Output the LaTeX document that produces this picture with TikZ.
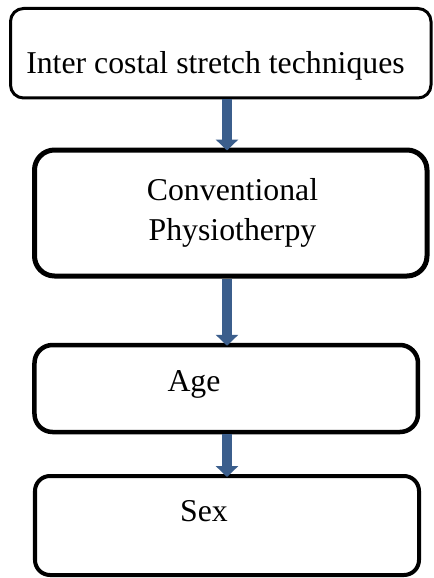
\documentclass[tikz,border=0pt]{standalone}
\usepackage{fontspec}
\setmainfont{Liberation Serif}
\usepackage{tikz}
\usetikzlibrary{arrows.meta}

\definecolor{flowblue}{HTML}{3B5E8C}

\begin{document}
\begin{tikzpicture}[
  box/.style={draw=black, rounded corners=#1, inner sep=0pt, fill=none},
  boxtext/.style={font=\fontsize{22.6}{28.45}\selectfont, inner sep=0pt, anchor=base, align=center},
  flow/.style={draw=flowblue, line width=0.25cm, shorten >=-0.075cm,
    -{Triangle[width=0.55cm, length=0.275cm]}}
]
% \draw (0,0) grid (10,-14);
\useasboundingbox (0,0) rectangle (10.85,-14.45);
\coordinate (axis) at (5.675,0);
\node[box=0.325cm, line width=0.075cm, minimum width=10.5125cm, minimum height=2.2375cm] (ics) at (5.519,-1.331) {};
\node[box=0.5cm, line width=0.125cm, minimum width=9.8125cm, minimum height=3.15cm] (conv) at (5.769,-5.325) {};
\node[box=0.45cm, line width=0.1125cm, minimum width=9.5875cm, minimum height=2.175cm] (age) at (5.656,-9.7125) {};
\node[box=0.375cm, line width=0.1cm, minimum width=9.6cm, minimum height=2.475cm] (sex) at (5.675,-13.1375) {};
\node[boxtext] (ics-txt) at (5.3875,-1.825) {Inter costal stretch techniques};
\node[boxtext] (conv-txt) at (5.8125,-6.0) {Conventional\\Physiotherpy};
\node[boxtext] (age-txt) at (4.85,-9.775) {Age};
\node[boxtext] (sex-txt) at (5.1,-13.025) {Sex};
\draw[flow] (ics.south -| axis) -- (conv.north -| axis);
\draw[flow] (conv.south -| axis) -- (age.north -| axis);
\draw[flow] (age.south -| axis) -- (sex.north -| axis);
\end{tikzpicture}
\end{document}
